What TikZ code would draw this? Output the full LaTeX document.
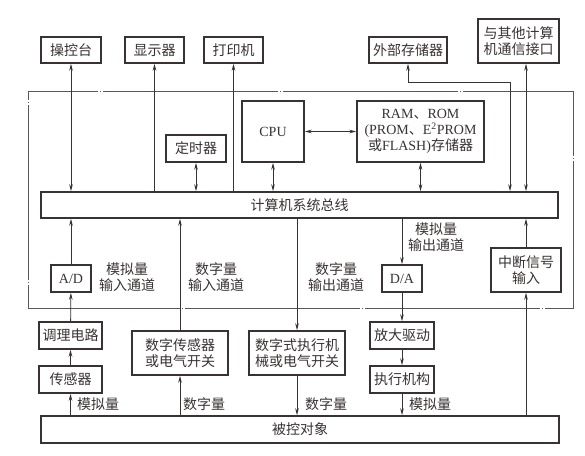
\documentclass[tikz,border=0pt]{standalone}
\usepackage{fontspec}
\setmainfont{Liberation Serif}
\newfontfamily\cjk{Noto Sans CJK SC}
\usetikzlibrary{arrows.meta}
\definecolor{ink}{HTML}{3A3232}
\definecolor{framegray}{HTML}{5E5656}
\newcommand\lat[1]{{\rmfamily #1}}
\tikzstyle{unit}=[
	rectangle,
	draw=ink,
	line width=1.6pt,
	inner sep=1pt,
	align=center,
	text=ink,
	font={\cjk\fontsize{14}{16}\selectfont}
]
\tikzstyle{note}=[
	align=center,
	inner sep=0pt,
	text=ink,
	font={\cjk\fontsize{14}{16}\selectfont}
]
\tikzstyle{flow}=[
	-{Stealth[length=7pt,width=3.6pt]},
	draw=ink,
	line width=0.8pt
]
\tikzstyle{bothflow}=[
	{Stealth[length=7pt,width=3.6pt]}-{Stealth[length=7pt,width=3.6pt]},
	draw=ink,
	line width=0.8pt
]
\tikzstyle{boundary}=[
	draw=framegray,
	line width=0.8pt,
	dash pattern=on 175pt off 2pt on 1pt off 2pt,
	dash phase=105pt
]

\begin{document}
\begin{tikzpicture}[x=1pt,y=-1pt]
\useasboundingbox (0,0) rectangle (585,455);
\fill[white] (0,0) rectangle (585,455);
% dotted frame of the computer
\draw[boundary] (28,91) -- (573,91) -- (573,308) -- (28,308) -- cycle;
% peripherals
\node [unit, minimum width=60pt, minimum height=26pt] (Console) at (71,50) {操控台};
\node [unit, minimum width=59pt, minimum height=26pt] (Display) at (154.5,50) {显示器};
\node [unit, minimum width=59pt, minimum height=26pt] (Printer) at (233.5,50) {打印机};
\node [unit, minimum width=78pt, minimum height=26pt] (ExtStorage) at (408,50) {外部存储器};
\node [unit, minimum width=81pt, minimum height=44pt] (Comm) at (518.5,41) {与其他计算\\机通信接口};
% inside the computer
\node [unit, minimum width=60pt, minimum height=27pt] (Timer) at (196,148.5) {定时器};
\node [unit, minimum width=62pt, minimum height=61pt] (CPU) at (273,131.5) {\lat{CPU}};
\node [unit, minimum width=127pt, minimum height=61pt] (Memory) at (420.5,131.5)
	{\lat{RAM}、\lat{ROM}\\\lat{(PROM}、\lat{E\textsuperscript{2}PROM}\\或\lat{FLASH)}存储器};
\node [unit, minimum width=517pt, minimum height=26pt] (Bus) at (299.5,205) {计算机系统总线};
\node [unit, minimum width=40pt, minimum height=27pt] (AD) at (71,278.5) {\lat{A/D}};
\node [unit, minimum width=40pt, minimum height=27pt] (DA) at (402,278.5) {\lat{D/A}};
\node [unit, minimum width=70pt, minimum height=44pt] (Interrupt) at (526,270) {中断信号\\输入};
% process side
\node [unit, minimum width=63pt, minimum height=27pt] (Conditioner) at (70.5,335.5) {调理电路};
\node [unit, minimum width=63pt, minimum height=27pt] (Sensor) at (70.5,379.5) {传感器};
\node [unit, minimum width=96pt, minimum height=44pt] (DigSensor) at (180,353) {数字传感器\\或电气开关};
\node [unit, minimum width=96pt, minimum height=44pt] (DigActuator) at (297,353) {数字式执行机\\械或电气开关};
\node [unit, minimum width=64pt, minimum height=27pt] (Amplifier) at (402,335.5) {放大驱动};
\node [unit, minimum width=64pt, minimum height=27pt] (Actuator) at (402,379.5) {执行机构};
\node [unit, minimum width=518pt, minimum height=27pt] (Plant) at (300,429.5) {被控对象};
% channel labels
\node [note] (AInLabel) at (127,277.5) {模拟量\\输入通道};
\node [note] (DInLabel) at (216,277.5) {数字量\\输入通道};
\node [note] (DOutLabel) at (336,277.5) {数字量\\输出通道};
\node [note] (AOutLabel) at (436,237) {模拟量\\输出通道};
\node [note] (ASenseLabel) at (98,404) {模拟量};
\node [note] (DSenseLabel) at (204,404) {数字量};
\node [note] (DActLabel) at (326,404) {数字量};
\node [note] (AActLabel) at (430,404) {模拟量};
% bus connections above
\coordinate (ExtBend) at (510,82);
\draw [bothflow] (Console) -- (Console |- Bus.north);
\draw [flow] (Bus.north -| Display) -- (Display);
\draw [flow] (Bus.north -| Printer) -- (Printer);
\draw [bothflow] (Timer) -- (Timer |- Bus.north);
\draw [bothflow] (CPU) -- (CPU |- Bus.north);
\draw [bothflow] (CPU.east) -- (Memory.west);
\draw [bothflow] (Memory) -- (Memory |- Bus.north);
\draw [bothflow] (ExtStorage.south) |- (ExtBend) -- (ExtBend |- Bus.north);
\draw [bothflow] (Comm.south -| Interrupt) -- (Bus.north -| Interrupt);
% input channels
\draw [flow] (Plant.north -| Sensor) -- (Sensor);
\draw [flow] (Sensor) -- (Conditioner);
\draw [flow] (Conditioner) -- (AD);
\draw [flow] (AD) -- (AD |- Bus.south);
\draw [flow] (Plant.north -| DigSensor) -- (DigSensor);
\draw [flow] (DigSensor) -- (DigSensor |- Bus.south);
% output channels
\draw [flow] (Bus.south -| DigActuator) -- (DigActuator);
\draw [flow] (DigActuator) -- (DigActuator |- Plant.north);
\draw [flow] (Bus.south -| DA) -- (DA);
\draw [flow] (DA) -- (Amplifier);
\draw [flow] (Amplifier) -- (Actuator);
\draw [flow] (Actuator) -- (Actuator |- Plant.north);
% interrupt
\draw [flow] (Plant.north -| Interrupt) -- (Interrupt);
\draw [flow] (Interrupt) -- (Interrupt |- Bus.south);
\end{tikzpicture}
\end{document}
